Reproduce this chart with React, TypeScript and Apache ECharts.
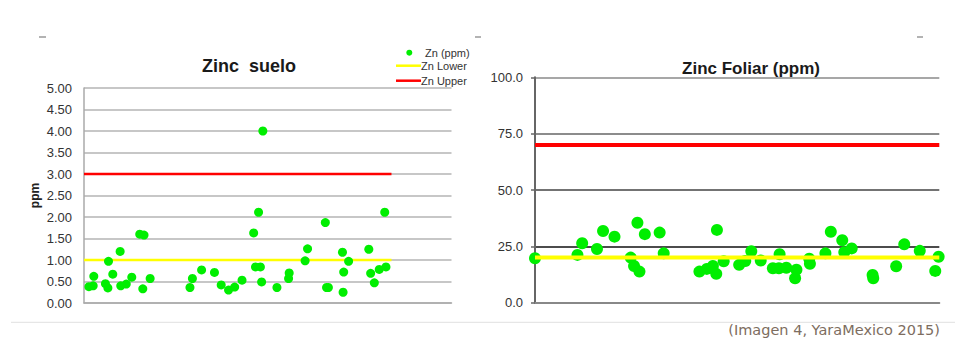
import React, { useEffect, useRef } from "react";
import * as echarts from "echarts";

// ---- Data ----
const soilTicks = [0, 0.5, 1, 1.5, 2, 2.5, 3, 3.5, 4, 4.5, 5];
const soilSample = [0.8, 1.5, 1.6, 3.5, 3.9, 4.0, 4.7, 5.9, 6.0, 6.9, 7.8, 9.1, 9.8, 9.6, 10.8, 17.3, 17.7, 19.2, 21.3, 22.4, 23.6, 24.6, 25.8, 27.7, 28.5, 28.0, 28.8, 29.0, 29.2, 31.5, 33.4, 33.5, 36.1, 36.5, 39.4, 39.6, 39.9, 42.2, 42.3, 42.4, 43.2, 46.5, 46.8, 47.4, 48.2, 49.1, 49.3];
const soilZn = [0.38, 0.40, 0.62, 0.45, 0.35, 0.97, 0.67, 1.20, 0.40, 0.44, 0.60, 1.60, 1.58, 0.33, 0.57, 0.36, 0.57, 0.77, 0.71, 0.42, 0.30, 0.37, 0.53, 1.63, 2.11, 0.84, 0.84, 0.49, 4.00, 0.36, 0.57, 0.70, 0.98, 1.26, 1.87, 0.36, 0.36, 1.18, 0.25, 0.72, 0.97, 1.25, 0.69, 0.47, 0.78, 2.11, 0.84];
const soilLower = 1.0;
const soilUpper = 3.0;
const soilLineEnd = 50.2;

const foliarSample = [0, 6.3, 7.0, 9.2, 10.1, 11.8, 14.2, 14.7, 15.5, 15.2, 16.3, 18.5, 19.1, 24.4, 25.5, 26.4, 27.0, 26.9, 28.0, 30.3, 31.2, 32.1, 33.5, 35.3, 36.3, 36.2, 37.3, 38.8, 38.6, 40.7, 40.8, 43.1, 43.9, 45.6, 45.9, 47.0, 50.1, 50.2, 53.6, 54.8, 57.1, 59.9, 59.4];
const foliarZn = [19.7, 21.2, 26.4, 23.8, 31.8, 29.3, 20.0, 16.3, 13.8, 35.5, 30.4, 31.1, 21.9, 13.8, 15.0, 16.3, 32.3, 12.8, 18.4, 16.8, 18.5, 22.8, 18.7, 15.3, 21.5, 15.3, 15.5, 14.6, 10.8, 19.5, 17.3, 21.9, 31.5, 27.7, 22.4, 24.1, 12.3, 10.8, 16.2, 25.9, 23.0, 20.4, 14.1];
const foliarLower = 20;
const foliarUpper = 70;

const legendLabels = ["Zn (ppm)", "Zn Lower", "Zn Upper"];
const titles = ["Zinc  suelo", "Zinc Foliar (ppm)"];
const caption = "(Imagen 4, YaraMexico 2015)";

const GREEN = "#00ee00";
const RED = "#ff0000";
const YELLOW = "#ffff00";
const FONT = "'Liberation Sans', Arial, sans-serif";

export default function App() {
  const ref = useRef<HTMLDivElement>(null);
  useEffect(() => {
    document.body.style.margin = "0";
    if (!ref.current) return;
    const chart = echarts.init(ref.current, undefined, { renderer: "svg" });
    const option: any = {
      animation: false,
      backgroundColor: "#ffffff",
      textStyle: { fontFamily: FONT },
      grid: [
        { left: 84, top: 88, width: 367.5, height: 215 },
        { left: 535, top: 77.3, width: 404.3, height: 225.4 },
      ],
      xAxis: [
        {
          gridIndex: 0, type: "value", min: 0, max: 60,
          axisLine: { show: true, lineStyle: { color: "#aaaaaa", width: 1.5 } },
          axisTick: { show: false }, axisLabel: { show: false }, splitLine: { show: false },
        },
        {
          gridIndex: 1, type: "value", min: 0, max: 60,
          axisLine: { show: true, lineStyle: { color: "#888888", width: 2 } },
          axisTick: { show: false }, axisLabel: { show: false }, splitLine: { show: false },
        },
      ],
      yAxis: [
        {
          gridIndex: 0, type: "value", min: soilTicks[0], max: soilTicks[soilTicks.length - 1], interval: 0.5,
          name: "ppm", nameLocation: "middle", nameRotate: 90, nameGap: 43,
          nameTextStyle: { fontSize: 12, fontWeight: "bold", color: "#222", fontFamily: FONT },
          axisLine: { show: true, lineStyle: { color: "#aaaaaa", width: 1.5 } },
          axisTick: { show: false },
          axisLabel: { fontSize: 13, color: "#333", margin: 12, fontFamily: FONT, formatter: (v: number) => v.toFixed(2) },
          splitLine: { show: true, lineStyle: { color: "#b4b4b4", width: 1.5 } },
        },
        {
          gridIndex: 1, type: "value", min: 0, max: 100, interval: 25,
          axisLine: { show: true, lineStyle: { color: "#666666", width: 2 } },
          axisTick: { show: true, length: 4, lineStyle: { color: "#666666", width: 1.5 } },
          axisLabel: { fontSize: 13, color: "#333", margin: 12, fontFamily: FONT, formatter: (v: number) => v.toFixed(1) },
          splitLine: { show: true, lineStyle: { color: ["#888888", "#111111", "#444444", "#666666", "#8a8a8a"], width: 1.5 } },
        },
      ],
      series: [
        {
          name: "Zn Lower", type: "line", xAxisIndex: 0, yAxisIndex: 0, symbol: "none", z: 2,
          data: [[0, soilLower], [soilLineEnd, soilLower]], lineStyle: { color: YELLOW, width: 2.5 },
        },
        {
          name: "Zn Upper", type: "line", xAxisIndex: 0, yAxisIndex: 0, symbol: "none", z: 2,
          data: [[0, soilUpper], [soilLineEnd, soilUpper]], lineStyle: { color: RED, width: 2.5 },
        },
        {
          name: "Zn (ppm)", type: "scatter", xAxisIndex: 0, yAxisIndex: 0, symbolSize: 9, z: 3,
          data: soilSample.map((x, i) => [x, soilZn[i]]), itemStyle: { color: GREEN, opacity: 1 },
        },
        {
          name: "Zn foliar", type: "scatter", xAxisIndex: 1, yAxisIndex: 1, symbolSize: 12, z: 2, clip: false,
          data: foliarSample.map((x, i) => [x, foliarZn[i]]), itemStyle: { color: GREEN, opacity: 1 },
        },
        {
          name: "Foliar Lower", type: "line", xAxisIndex: 1, yAxisIndex: 1, symbol: "none", z: 3,
          data: [[0, foliarLower], [60, foliarLower]], lineStyle: { color: YELLOW, width: 4 },
        },
        {
          name: "Foliar Upper", type: "line", xAxisIndex: 1, yAxisIndex: 1, symbol: "none", z: 3,
          data: [[0, foliarUpper], [60, foliarUpper]], lineStyle: { color: RED, width: 4 },
        },
      ],
      graphic: [
        // titles
        { type: "text", x: 249, y: 65.5, style: { text: titles[0], font: `bold 18px ${FONT}`, fill: "#1a1a1a", textAlign: "center", textVerticalAlign: "middle" } },
        { type: "text", x: 751, y: 68, style: { text: titles[1], font: `bold 17px ${FONT}`, fill: "#1a1a1a", textAlign: "center", textVerticalAlign: "middle" } },
        // legend
        { type: "circle", shape: { cx: 409.3, cy: 52.7, r: 3 }, style: { fill: GREEN } },
        { type: "text", x: 425, y: 52.7, style: { text: legendLabels[0], font: `11px ${FONT}`, fill: "#333", textVerticalAlign: "middle" } },
        { type: "line", shape: { x1: 396, y1: 65.7, x2: 421, y2: 65.7 }, style: { stroke: YELLOW, lineWidth: 2.5 } },
        { type: "text", x: 421, y: 65.7, style: { text: legendLabels[1], font: `11px ${FONT}`, fill: "#333", textVerticalAlign: "middle" } },
        { type: "line", shape: { x1: 396, y1: 80.7, x2: 421, y2: 80.7 }, style: { stroke: RED, lineWidth: 2.5 } },
        { type: "text", x: 421, y: 80.7, style: { text: legendLabels[2], font: `11px ${FONT}`, fill: "#333", textVerticalAlign: "middle" } },
        // small marks at top
        { type: "line", shape: { x1: 39, y1: 37, x2: 46, y2: 37 }, style: { stroke: "#9a9a9a", lineWidth: 1.5 } },
        { type: "line", shape: { x1: 475, y1: 37, x2: 481, y2: 37 }, style: { stroke: "#9a9a9a", lineWidth: 1.5 } },
        { type: "line", shape: { x1: 917, y1: 37, x2: 923, y2: 37 }, style: { stroke: "#9a9a9a", lineWidth: 1.5 } },
        // separator and caption
        { type: "line", shape: { x1: 11, y1: 322.3, x2: 955, y2: 322.3 }, style: { stroke: "#e6e6e6", lineWidth: 1.2 } },
        { type: "text", x: 940, y: 330, style: { text: caption, font: `14.5px 'DejaVu Sans', sans-serif`, fill: "#7d6d60", textAlign: "right", textVerticalAlign: "middle" } },
      ],
    };
    chart.setOption(option);
    return () => chart.dispose();
  }, []);
  return <div ref={ref} style={{ width: 968, height: 358 }} />;
}
